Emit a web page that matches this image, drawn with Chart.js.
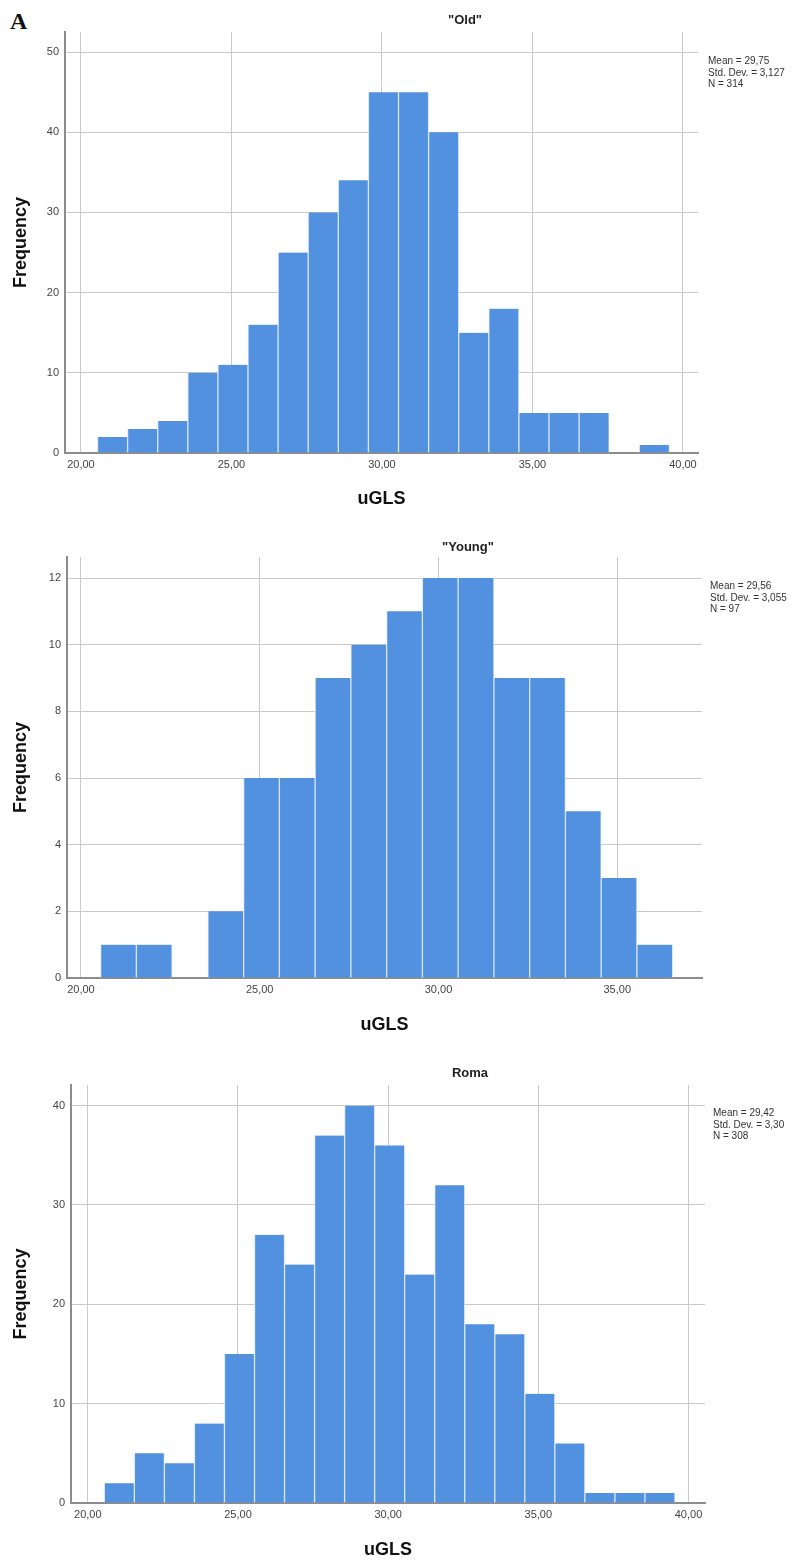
<!DOCTYPE html>
<html>
<head>
<meta charset="utf-8">
<script src="https://cdn.jsdelivr.net/npm/chart.js@4.4.1/dist/chart.umd.min.js"></script>
<style>
  body { margin: 0; background: #fff; width: 804px; height: 1566px; position: relative; overflow: hidden; font-family: "Liberation Sans", Arial, sans-serif; }
  canvas { position: absolute; left: 0; }
  .panel-title { position: absolute; width: 200px; text-align: center; font-weight: bold; font-size: 13px; line-height: 16px; color: #222; }
  .stats { position: absolute; font-size: 10px; line-height: 11.5px; color: #333; white-space: pre; }
  #letter { position: absolute; left: 10px; top: 9px; font-family: "Liberation Serif", "DejaVu Serif", serif; font-weight: bold; font-size: 24px; line-height: 24px; color: #111; }
</style>
</head>
<body>
<div id="letter">A</div>
<canvas id="oldChart" width="804" height="520" style="top:0px"></canvas>
<canvas id="youngChart" width="804" height="526" style="top:520px"></canvas>
<canvas id="romaChart" width="804" height="520" style="top:1046px"></canvas>

<div class="panel-title" style="left:365px;top:12px">"Old"</div>
<div class="panel-title" style="left:368px;top:539px">"Young"</div>
<div class="panel-title" style="left:370px;top:1065px">Roma</div>

<div class="stats" style="left:708px;top:55px">Mean = 29,75
Std. Dev. = 3,127
N = 314</div>
<div class="stats" style="left:710px;top:580px">Mean = 29,56
Std. Dev. = 3,055
N = 97</div>
<div class="stats" style="left:713px;top:1107px">Mean = 29,42
Std. Dev. = 3,30
N = 308</div>

<script>
// bin centres of the uGLS histograms (bins one unit wide)
const binCenters = [21.05, 22.05, 23.05, 24.05, 25.05, 26.05, 27.05, 28.05, 29.05, 30.05,
                    31.05, 32.05, 33.05, 34.05, 35.05, 36.05, 37.05, 38.05, 39.05];

const oldCounts   = [2, 3, 4, 10, 11, 16, 25, 30, 34, 45, 45, 40, 15, 18, 5, 5, 5, 0, 1];
const youngCounts = [1, 1, 0, 2, 6, 6, 9, 10, 11, 12, 12, 9, 9, 5, 3, 1];
const romaCounts  = [2, 5, 4, 8, 15, 27, 24, 37, 40, 36, 23, 32, 18, 17, 11, 6, 1, 1, 1];

const xTicksOld   = [20, 25, 30, 35, 40];
const xTicksYoung = [20, 25, 30, 35];
const xTicksRoma  = [20, 25, 30, 35, 40];

const yTicksOld   = [0, 10, 20, 30, 40, 50];
const yTicksYoung = [0, 2, 4, 6, 8, 10, 12];
const yTicksRoma  = [0, 10, 20, 30, 40];

Chart.defaults.font.family = '"Liberation Sans", Arial, sans-serif';

const gridColor = '#cacaca';
const axisColor = '#8c8c8c';
const tickColor = '#444';

function makeHist(id, counts, xTicks, yTicks, frame) {
    const ctx = document.getElementById(id).getContext('2d');
    return new Chart(ctx, {
        type: 'bar',
        data: {
            datasets: [{
                data: counts.map((c, i) => ({ x: binCenters[i], y: c })),
                backgroundColor: '#5290e0',
                borderColor: '#d6e5f8',
                borderWidth: { left: 1, right: 1, top: 0, bottom: 0 },
                barPercentage: 1,
                categoryPercentage: 1
            }]
        },
        options: {
            responsive: false,
            animation: false,
            layout: {
                padding: { top: frame.padTop, right: frame.padRight, left: 0, bottom: 0 }
            },
            plugins: {
                legend: { display: false },
                tooltip: { enabled: false }
            },
            scales: {
                x: {
                    type: 'linear',
                    min: frame.xMin,
                    max: frame.xMax,
                    offset: false,
                    grid: { color: gridColor, lineWidth: 1, drawTicks: false, offset: false },
                    border: { color: axisColor, width: 2 },
                    ticks: {
                        padding: 5,
                        color: tickColor,
                        font: { size: 11 },
                        maxRotation: 0,
                        autoSkip: false,
                        callback: v => v.toFixed(2).replace('.', ',')
                    },
                    afterBuildTicks: s => { s.ticks = xTicks.map(v => ({ value: v })); },
                    afterFit: s => { s.height = frame.axisH; },
                    title: {
                        display: true,
                        text: 'uGLS',
                        color: '#111',
                        font: { size: 18, weight: 'bold' },
                        padding: { top: 0, bottom: frame.titleBottom }
                    }
                },
                y: {
                    min: 0,
                    max: frame.yMax,
                    grid: { color: gridColor, lineWidth: 1, drawTicks: false },
                    border: { color: axisColor, width: 2 },
                    ticks: {
                        padding: 6,
                        color: tickColor,
                        font: { size: 11 }
                    },
                    afterBuildTicks: s => { s.ticks = yTicks.map(v => ({ value: v })); },
                    afterFit: s => { s.width = frame.axisW; },
                    title: {
                        display: true,
                        text: 'Frequency',
                        color: '#111',
                        font: { size: 18, weight: 'bold' },
                        padding: { top: 10, bottom: 0 }
                    }
                }
            }
        }
    });
}

makeHist('oldChart', oldCounts, xTicksOld, yTicksOld,
    { xMin: 19.47, xMax: 40.5, yMax: 52.5, padTop: 32, padRight: 106, axisW: 65, axisH: 67, titleBottom: 10 });

makeHist('youngChart', youngCounts, xTicksYoung, yTicksYoung,
    { xMin: 19.61, xMax: 37.37, yMax: 12.63, padTop: 37, padRight: 102, axisW: 67, axisH: 68, titleBottom: 10 });

makeHist('romaChart', romaCounts, xTicksRoma, yTicksRoma,
    { xMin: 19.44, xMax: 40.55, yMax: 42.08, padTop: 39, padRight: 99, axisW: 71, axisH: 63, titleBottom: 5 });
</script>
</body>
</html>
